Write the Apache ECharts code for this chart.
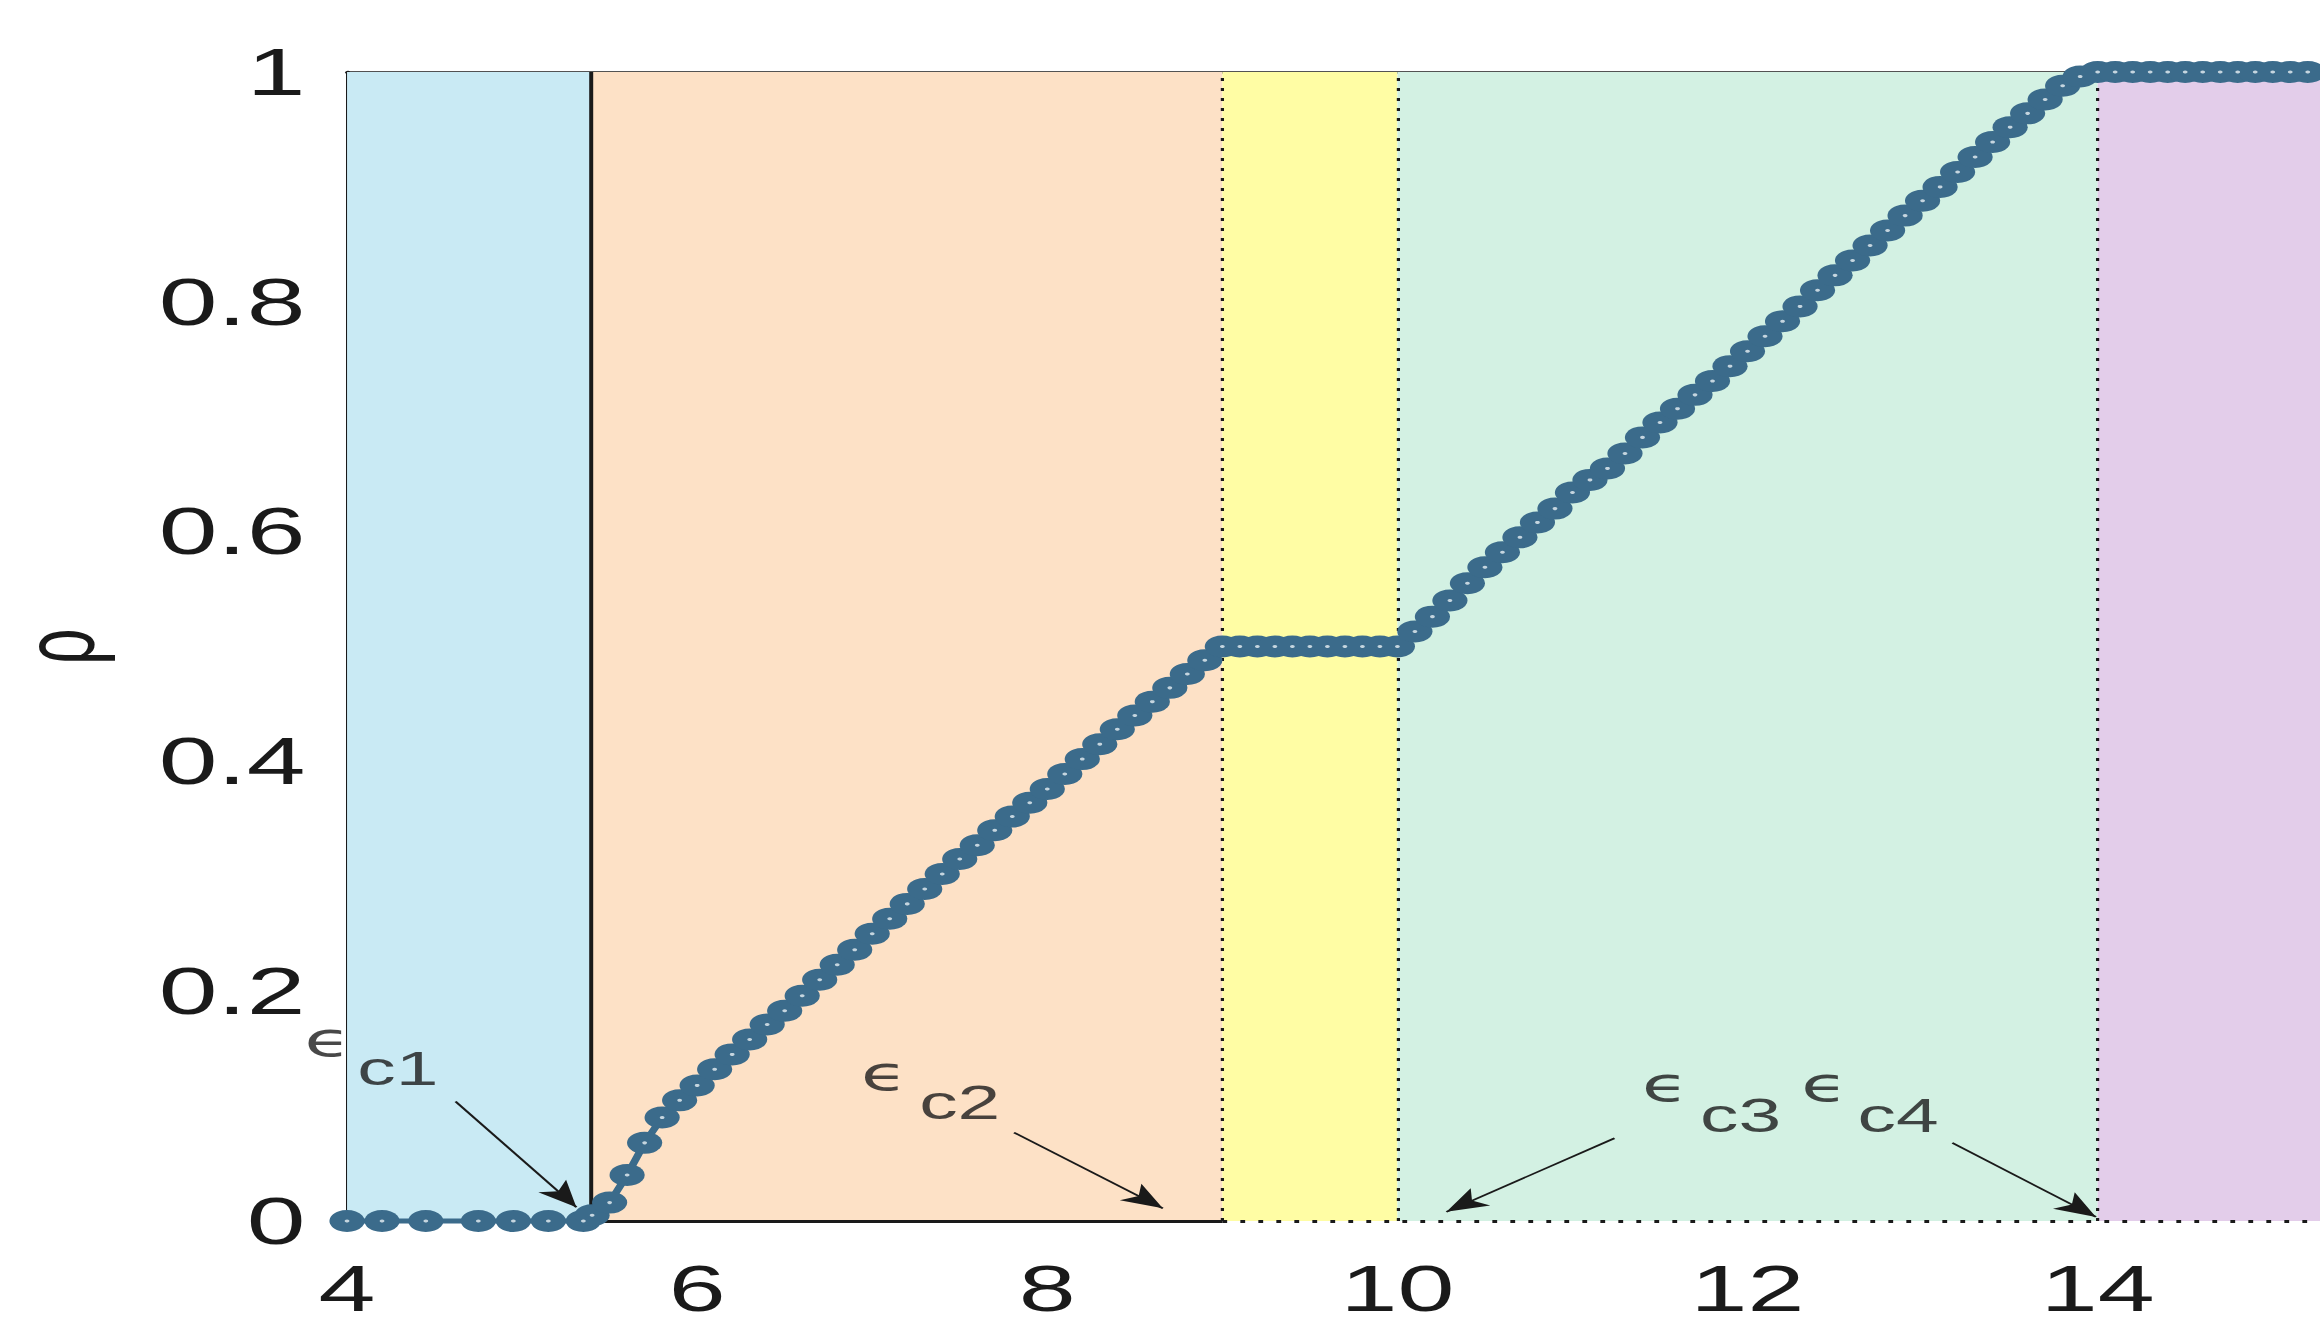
<!DOCTYPE html>
<html>
<head>
<meta charset="utf-8">
<script src="https://cdn.jsdelivr.net/npm/echarts@6/dist/echarts.min.js"></script>
<style>
html,body{margin:0;padding:0;background:#fff;overflow:hidden;}
#wrap{width:2320px;height:1324px;overflow:hidden;position:relative;background:#fff;}
#chart{width:1450px;height:1324px;transform:scaleX(1.6);transform-origin:0 0;}
</style>
</head>
<body>
<div id="wrap"><div id="chart"></div></div>
<script>
// ---------------- data ----------------
const xTicks = [4, 6, 8, 10, 12, 14];
const yTicks = [0, 0.2, 0.4, 0.6, 0.8, 1];
const xRange = [4, 15.27];
const yRange = [0, 1];

// critical epsilon values (region boundaries)
const epsC = [5.39, 9, 10, 14];

// rho(epsilon): low plateau (sparse samples)
const lowX = [4.0, 4.2, 4.45, 4.75, 4.95, 5.15, 5.35];
const lowY = [0, 0, 0, 0, 0, 0, 0];

// rho(epsilon): main branch
const rhoX = [5.4,5.5,5.6,5.7,5.8,5.9,6.0,6.1,6.2,6.3,6.4,6.5,6.6,6.7,6.8,6.9,7.0,7.1,7.2,7.3,7.4,7.5,7.6,7.7,7.8,7.9,
  8.0,8.1,8.2,8.3,8.4,8.5,8.6,8.7,8.8,8.9,9.0,9.1,9.2,9.3,9.4,9.5,9.6,9.7,9.8,9.9,10.0,
  10.1,10.2,10.3,10.4,10.5,10.6,10.7,10.8,10.9,11.0,11.1,11.2,11.3,11.4,11.5,11.6,11.7,11.8,11.9,
  12.0,12.1,12.2,12.3,12.4,12.5,12.6,12.7,12.8,12.9,13.0,13.1,13.2,13.3,13.4,13.5,13.6,13.7,13.8,13.9,
  14.0,14.1,14.2,14.3,14.4,14.5,14.6,14.7,14.8,14.9,15.0,15.1,15.2,15.3];
const rhoY = [0.005,0.016,0.04,0.068,0.09,0.105,0.118,0.132,0.145,0.158,0.171,0.183,0.196,0.21,0.223,0.236,0.25,0.263,0.276,0.289,0.302,0.315,0.327,0.34,0.352,0.364,
  0.376,0.389,0.402,0.415,0.428,0.44,0.452,0.464,0.476,0.488,0.5,0.5,0.5,0.5,0.5,0.5,0.5,0.5,0.5,0.5,0.5,
  0.513,0.526,0.54,0.555,0.569,0.582,0.595,0.608,0.62,0.634,0.645,0.655,0.668,0.682,0.695,0.707,0.719,0.731,0.744,
  0.757,0.77,0.783,0.796,0.81,0.823,0.836,0.849,0.862,0.875,0.888,0.9,0.913,0.926,0.939,0.952,0.964,0.976,0.988,0.996,
  1,1,1,1,1,1,1,1,1,1,1,1,1,1];

// annotations (data coordinates)
const annoNames = ['c1', 'c2', 'c3', 'c4'];
const annoEpsPos = [[3.89, 0.158], [7.07, 0.128], [11.53, 0.119], [12.44, 0.119]];
const annoSubPos = [[4.29, 0.133], [7.50, 0.103], [11.96, 0.092], [12.86, 0.092]];
const arrowFrom = [[4.62, 0.104], [7.81, 0.077], [11.24, 0.072], [13.17, 0.068]];
const arrowTo = [[5.31, 0.012], [8.66, 0.011], [10.28, 0.008], [13.99, 0.0035]];

// ---------------- styles ----------------
const FONT = "'Liberation Sans', Arial, Helvetica, sans-serif";
const bandColors = ['#c9eaf4', '#fde1c6', '#fffda4', '#d3f1e3', '#e3cdea'];
const lineColor = '#3b6b8b';
const ink = '#1a1a1a';

const bounds = [xRange[0]].concat(epsC, [xRange[1]]);
const bands = [];
for (let i = 0; i < bounds.length - 1; i++) {
  bands.push([
    { coord: [bounds[i], yRange[0]], itemStyle: { color: bandColors[i], borderWidth: 0 } },
    { coord: [bounds[i + 1], yRange[1]] }
  ]);
}

const solidV = { color: ink, width: 2.5, type: 'solid' };
const dotV = { color: ink, width: 2, type: [3, 7] };
const solidH = { color: ink, width: 3, type: 'solid' };
const dotH = { color: ink, width: 3, type: [3, 8.25] };

const edges = [
  [{ coord: [epsC[0], 0], lineStyle: solidV }, { coord: [epsC[0], 1] }],
  [{ coord: [epsC[1], 0], lineStyle: dotV }, { coord: [epsC[1], 1] }],
  [{ coord: [epsC[2], 0], lineStyle: dotV }, { coord: [epsC[2], 1] }],
  [{ coord: [epsC[3], 0], lineStyle: dotV }, { coord: [epsC[3], 1] }],
  [{ coord: [xRange[0], 0], lineStyle: solidH }, { coord: [epsC[1], 0] }],
  [{ coord: [epsC[1], 0], lineStyle: dotH }, { coord: [xRange[1], 0] }]
];

const arrows = arrowFrom.map((p, i) => [
  { coord: p, lineStyle: { color: ink, width: 1.6, type: 'solid' } },
  { coord: arrowTo[i] }
]);

const lowData = lowX.map((x, i) => [x, lowY[i]]);
const rhoData = rhoX.map((x, i) => [x, rhoY[i]]);

const markerSeries = (name, data, clip) => ({
  name, type: 'line', z: 5, data, clip,
  symbol: 'circle', symbolSize: 22, showAllSymbol: true,
  lineStyle: { color: lineColor, width: 5 },
  itemStyle: { color: lineColor, borderWidth: 0 }
});
const holeSeries = (name, data, clip) => ({
  name, type: 'scatter', z: 6, data, clip, silent: true,
  symbol: 'circle', symbolSize: 3,
  itemStyle: { color: '#e8f0f4' }
});

const chart = echarts.init(document.getElementById('chart'), null, { renderer: 'svg' });

chart.setOption({
  animation: false,
  backgroundColor: '#fff',
  grid: { left: 216.9, right: 0, top: 72, bottom: 103, containLabel: false, outerBoundsMode: 'none' },
  xAxis: [{
    type: 'value', min: xRange[0], max: xRange[1], interval: 2, position: 'bottom',
    axisLine: { show: false }, axisTick: { show: false }, splitLine: { show: false },
    axisLabel: {
      show: true, color: ink, fontFamily: FONT, fontSize: 64, lineHeight: 64, margin: 36,
      showMaxLabel: false,
      formatter: v => (xTicks.indexOf(v) >= 0 ? String(v) : '')
    }
  }, {
    type: 'value', min: xRange[0], max: xRange[1], position: 'top',
    axisLine: { show: true, lineStyle: { color: ink, width: 2.5 } },
    axisTick: { show: false }, axisLabel: { show: false }, splitLine: { show: false }
  }],
  yAxis: {
    type: 'value', min: yRange[0], max: yRange[1], interval: 0.2,
    name: 'ρ', nameLocation: 'middle', nameRotate: 90, nameGap: 148,
    nameTextStyle: { color: ink, fontFamily: FONT, fontSize: 64 },
    axisLine: { show: true, lineStyle: { color: ink, width: 2.5 } },
    axisTick: { show: false }, splitLine: { show: false },
    axisLabel: {
      color: ink, fontFamily: FONT, fontSize: 66, margin: 26,
      formatter: v => { const r = Math.round(v * 10) / 10; return yTicks.indexOf(r) >= 0 ? String(r) : ''; }
    }
  },
  series: [
    {
      name: 'regions', type: 'line', data: [], z: 1, silent: true,
      markArea: { silent: true, data: bands },
      markLine: { silent: true, symbol: ['none', 'none'], label: { show: false }, data: edges }
    },
    markerSeries('rho-low', lowData, false),
    markerSeries('rho', rhoData, true),
    holeSeries('rho-low-holes', lowData, false),
    holeSeries('rho-holes', rhoData, true),
    {
      name: 'arrows', type: 'line', data: [], z: 7, silent: true,
      markLine: { silent: true, symbol: ['none', 'arrow'], symbolSize: [16, 26], label: { show: false }, data: arrows }
    },
    {
      name: 'eps', type: 'scatter', z: 8, clip: false, silent: true, symbolSize: 0,
      data: annoEpsPos,
      label: { show: true, position: 'inside', formatter: 'ϵ', color: ink, fontFamily: "'DejaVu Sans', sans-serif", fontSize: 48 }
    },
    {
      name: 'sub', type: 'scatter', z: 8, clip: false, silent: true, symbolSize: 0,
      data: annoSubPos,
      label: { show: true, position: 'inside', formatter: p => annoNames[p.dataIndex], color: ink, fontFamily: FONT, fontSize: 48 }
    }
  ]
});
</script>
</body>
</html>
